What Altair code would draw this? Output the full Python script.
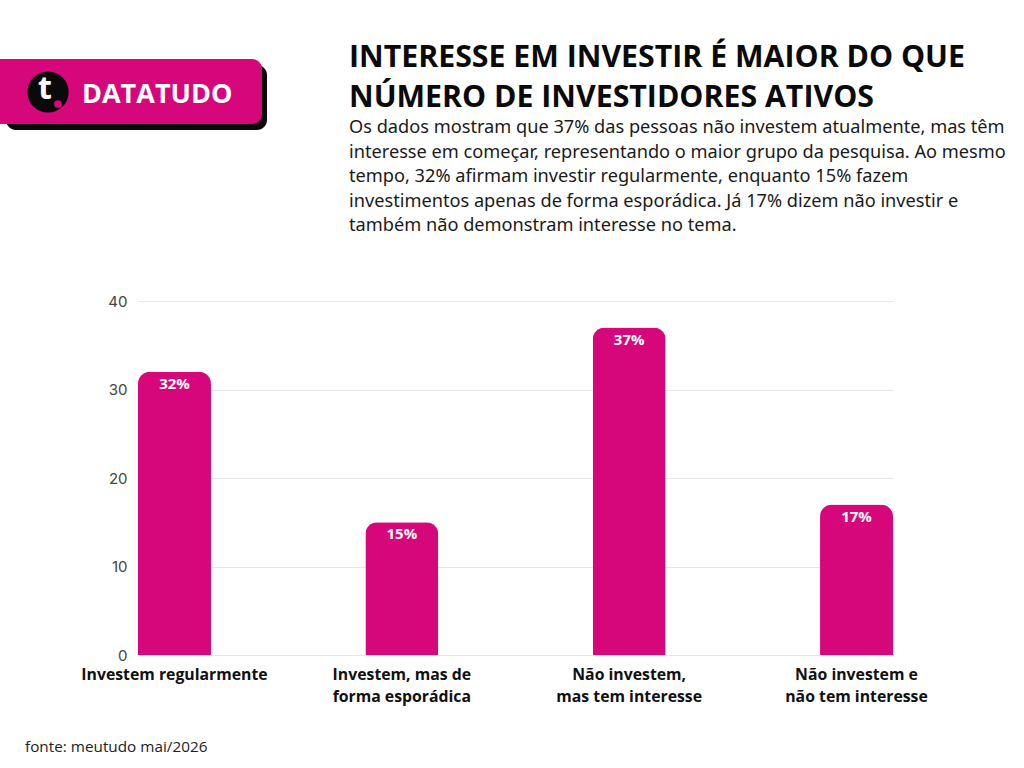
import altair as alt
import pandas as pd

categories = [
    "Investem regularmente",
    "Investem, mas de\nforma esporádica",
    "Não investem,\nmas tem interesse",
    "Não investem e\nnão tem interesse",
]
values = [32, 15, 37, 17]
y_ticks = [0, 10, 20, 30, 40]

title_text = "INTERESSE EM INVESTIR É MAIOR DO QUE\nNÚMERO DE INVESTIDORES ATIVOS"
subtitle_text = (
    "Os dados mostram que 37% das pessoas não investem atualmente, mas têm\n"
    "interesse em começar, representando o maior grupo da pesquisa. Ao mesmo\n"
    "tempo, 32% afirmam investir regularmente, enquanto 15% fazem\n"
    "investimentos apenas de forma esporádica. Já 17% dizem não investir e\n"
    "também não demonstram interesse no tema."
)
source_text = "fonte: meutudo mai/2026"
brand_text = "DATATUDO"

PINK = "#D6077B"

df = pd.DataFrame({"cat": categories, "val": values})
one = pd.DataFrame({"k": [0]})

x_enc = alt.X(
    "cat:N", sort=None, title=None,
    scale=alt.Scale(paddingInner=0.679, paddingOuter=0),
    axis=alt.Axis(
        labelAngle=0, labelExpr="split(datum.label, '\\n')",
        labelFont="Open Sans", labelFontWeight="bold", labelFontSize=15.8,
        labelColor="#111111", labelLineHeight=22, labelPadding=12,
        domain=False, ticks=False, labelLimit=300,
    ),
)
y_enc = alt.Y(
    "val:Q", title=None,
    scale=alt.Scale(domain=[0, 40], nice=False),
    axis=alt.Axis(
        values=y_ticks, grid=True, gridColor="#e6e6e6", domain=False, ticks=False,
        labelFont="Inter", labelFontSize=15, labelColor="#444444", labelPadding=11,
    ),
)

bars = alt.Chart(df).mark_bar(
    color=PINK, cornerRadiusTopLeft=12, cornerRadiusTopRight=12
).encode(x=x_enc, y=y_enc)

bar_labels = alt.Chart(df).transform_calculate(
    lbl="datum.val + '%'"
).mark_text(
    color="white", font="Open Sans", fontWeight="bold", fontSize=15,
    baseline="middle", dy=12
).encode(x=alt.X("cat:N", sort=None), y=alt.Y("val:Q"), text="lbl:N")

title = alt.Chart(one).mark_text(
    text=title_text, lineBreak="\n", lineHeight=40, align="left", baseline="alphabetic",
    font="Open Sans", fontWeight="bold", fontSize=30.3, color="#0a0a0a"
).encode(x=alt.value(211), y=alt.value(-234))

subtitle = alt.Chart(one).mark_text(
    text=subtitle_text, lineBreak="\n", lineHeight=24.5, align="left", baseline="alphabetic",
    font="Noto Sans", fontSize=18.2, color="#1a1a1a"
).encode(x=alt.value(211), y=alt.value(-168))

source = alt.Chart(one).mark_text(
    text=source_text, align="left", baseline="alphabetic",
    font="Open Sans", fontSize=15.3, color="#222222"
).encode(x=alt.value(-113), y=alt.value(451))

logo_shadow = alt.Chart(one).mark_rect(color="#0a0a0a", cornerRadius=10).encode(
    x=alt.value(-132), x2=alt.value(129), y=alt.value(-236), y2=alt.value(-171)
)
logo_box = alt.Chart(one).mark_rect(color=PINK, cornerRadius=10).encode(
    x=alt.value(-150), x2=alt.value(124), y=alt.value(-242), y2=alt.value(-177)
)
logo_blob = alt.Chart(one).mark_point(
    shape="circle", filled=True, color="#0a0a0a", opacity=1, size=1700
).encode(x=alt.value(-90), y=alt.value(-209))
logo_t = alt.Chart(one).mark_text(
    text="t", font="Open Sans", fontWeight="bold", fontSize=32, color="white",
    align="center", baseline="middle"
).encode(x=alt.value(-93), y=alt.value(-212))
logo_dot = alt.Chart(one).mark_point(
    shape="circle", filled=True, color=PINK, opacity=1, size=60
).encode(x=alt.value(-80), y=alt.value(-197))
logo_text = alt.Chart(one).mark_text(
    text=brand_text, font="Open Sans", fontWeight="bold", fontSize=27, color="white",
    align="left", baseline="alphabetic"
).encode(x=alt.value(-56), y=alt.value(-198))

chart = alt.layer(
    bars, bar_labels, title, subtitle, source,
    logo_shadow, logo_box, logo_blob, logo_t, logo_dot, logo_text
).properties(
    width=755, height=354,
    autosize=alt.AutoSizeParams(type="none"),
    padding={"left": 138, "top": 301, "right": 131, "bottom": 113},
    background="white",
).configure_view(stroke=None)

chart.save("out.html", embed_options={"renderer": "svg", "actions": False})
